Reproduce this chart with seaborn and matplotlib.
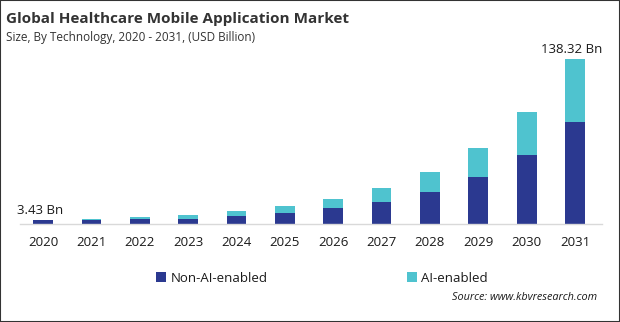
import matplotlib
matplotlib.use("Agg")
import matplotlib.pyplot as plt
import seaborn as sns
import pandas as pd
from matplotlib.patches import Rectangle

years = ["2020", "2021", "2022", "2023", "2024", "2025",
         "2026", "2027", "2028", "2029", "2030", "2031"]
non_ai = [3.0, 3.6, 4.0, 4.4, 7.0, 9.2, 13.4, 18.4, 26.8, 39.4, 57.8, 85.7]
ai = [0.43, 0.7, 1.6, 3.1, 3.9, 5.9, 7.6, 11.8, 16.8, 24.3, 36.3, 52.62]
series_names = ["Non-AI-enabled", "AI-enabled"]
value_labels = {0: "3.43 Bn", 11: "138.32 Bn"}

dark = "#2b3990"
light = "#4fc3cf"

sns.set_theme(style="white")
plt.rcParams["font.family"] = ["Open Sans", "DejaVu Sans"]

df = pd.DataFrame({"year": years, "non_ai": non_ai, "ai": ai})
df["total"] = df["non_ai"] + df["ai"]

fig = plt.figure(figsize=(6.2, 3.22), dpi=100)
ax = fig.add_axes([20 / 620, 98 / 322, 582 / 620, 179 / 322])

# stacked look: full total in the light colour, lower segment drawn over it
sns.barplot(data=df, x="year", y="total", color=light, width=0.41,
            saturation=1, linewidth=0, ax=ax, label=series_names[1])
sns.barplot(data=df, x="year", y="non_ai", color=dark, width=0.41,
            saturation=1, linewidth=0, ax=ax, label=series_names[0])
handles, labels = ax.get_legend_handles_labels()
if ax.get_legend() is not None:
    ax.get_legend().remove()

ax.set_ylim(0, 150)
ax.set_xlim(-0.48, 11.56)
ax.set_xlabel("")
ax.set_ylabel("")
ax.set_yticks([])
for s in ["top", "right", "left"]:
    ax.spines[s].set_visible(False)
ax.spines["bottom"].set_color("#d9d9d9")
ax.spines["bottom"].set_linewidth(1)
ax.tick_params(axis="x", length=0, pad=9, labelsize=9.5, labelcolor="#1a1a1a")

for i, txt in value_labels.items():
    ax.annotate(txt, (i, df["total"][i]), xytext=(-2, 2),
                textcoords="offset points", ha="center", va="bottom",
                fontsize=9.5, color="#1a1a1a")

fig.text(6 / 620, 1 - 19 / 322, "Global Healthcare Mobile Application Market",
         fontsize=11, fontweight="bold", color="#333333", va="center")
fig.text(6 / 620, 1 - 38 / 322, "Size, By Technology, 2020 - 2031, (USD Billion)",
         fontsize=8.5, color="#333333", va="center")

order = [labels.index(n) for n in series_names]
fig.legend([handles[k] for k in order], [labels[k] for k in order],
           loc="center", bbox_to_anchor=(322 / 620, 1 - 278 / 322), ncol=2,
           frameon=False, fontsize=9.5, handlelength=0.75, handleheight=0.75,
           handletextpad=0.3, columnspacing=10.6, labelcolor="#1a1a1a")

fig.text(597 / 620, 1 - 297 / 322, "Source: www.kbvresearch.com",
         fontsize=7.8, style="italic", color="#1a1a1a", ha="right", va="center")

fig.patches.append(Rectangle((0, 0), 1, 1, transform=fig.transFigure,
                             fill=False, edgecolor="#333333", linewidth=1.5))

fig.savefig("out.png", dpi=100)
